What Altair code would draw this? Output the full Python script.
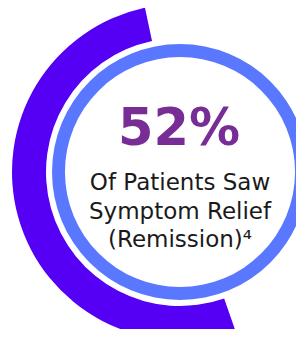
import altair as alt
import pandas as pd

# Data
categories = ["Remission"]
values = [52]
total = [100]
headline = ["52%"]
body_lines = ["Of Patients Saw", "Symptom Relief", "(Remission)⁴"]

arc_df = pd.DataFrame({"category": categories, "value": values})
ring_df = pd.DataFrame({"category": ["All patients"], "value": total})
head_df = pd.DataFrame({"label": headline})
body_df = pd.DataFrame({"label": ["\n".join(body_lines)]})

CX, CY = 172, 164
START = 6.073  # radians, ~348 deg (just left of 12 o'clock)
TWO_PI = 6.283185307

progress = alt.Chart(arc_df).mark_arc(
    radius=168, radius2=134, color="#5500F5", stroke=None
).encode(
    theta=alt.Theta("value:Q", stack=True,
                    scale=alt.Scale(domain=[0, 100], range=[START, START - TWO_PI])),
    x=alt.value(CX), y=alt.value(CY),
)

ring = alt.Chart(ring_df).mark_arc(
    radius=128, radius2=115, color="#5A78FF"
).encode(
    theta=alt.Theta("value:Q", stack=True,
                    scale=alt.Scale(domain=[0, 100], range=[0, TWO_PI])),
    x=alt.value(CX), y=alt.value(CY),
)

head = alt.Chart(head_df).mark_text(
    font="DejaVu Sans", fontWeight="bold", fontSize=51, color="#782D96",
    align="center", baseline="alphabetic"
).encode(text="label:N", x=alt.value(CX - 1), y=alt.value(137))

body = alt.Chart(body_df).mark_text(
    font="DejaVu Sans", fontSize=23, color="#1A1A1A", lineBreak="\n",
    lineHeight=28.5, align="center", baseline="alphabetic"
).encode(text="label:N", x=alt.value(CX), y=alt.value(182))

chart = alt.layer(progress, ring, head, body).resolve_scale(theta="independent").properties(
    width=288, height=321, padding=0,
    autosize=alt.AutoSizeParams(type="none"),
).configure_view(stroke=None)

chart.save("out.html", embed_options={"renderer": "svg", "actions": False})
